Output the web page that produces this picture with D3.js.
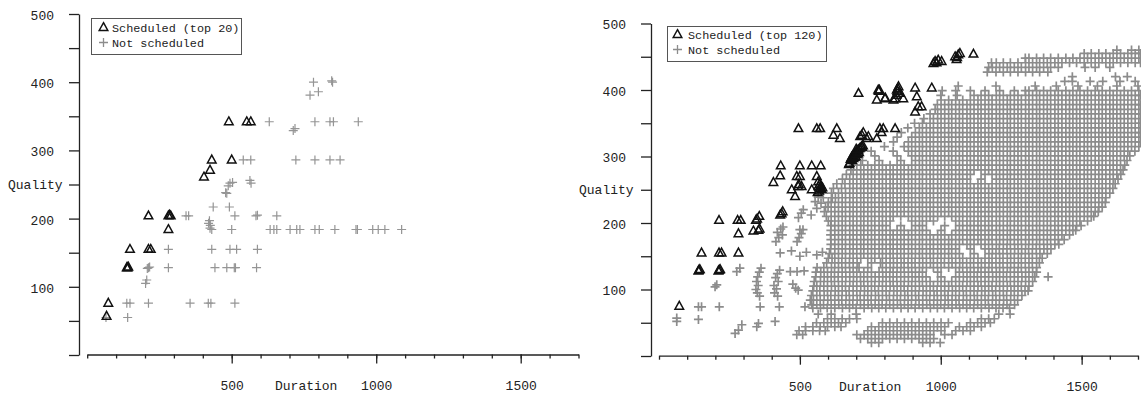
<!DOCTYPE html>
<html>
<head>
<meta charset="utf-8">
<script src="https://cdn.jsdelivr.net/npm/d3@7"></script>
<style>
  html, body { margin: 0; padding: 0; background: #fff; }
  svg { display: block; }
</style>
</head>
<body>
<svg id="chart" width="1141" height="394"></svg>
<script>
// ---- axis ticks ----
const durationTicks = [500, 1000, 1500];
const durationMinorTicks = [0, 100, 200, 300, 400, 500, 600, 700, 800, 900, 1000, 1100, 1200, 1300, 1400, 1500, 1600, 1700];
const qualityTicks = [100, 200, 300, 400, 500];
const qualityMinorTicks = [0, 50, 100, 150, 200, 250, 300, 350, 400, 450, 500];

// ---- left panel: top 20 scheduled, [duration, quality] ----
const leftScheduled = [
  [490,342],[552,342],[566,342],[431,286],[500,286],[425,271],[404,261],
  [212,204],[281,204],[289,204],[285,205],[281,184],[148,155],[212,155],[220,155],
  [137,128],[140,128],[142,129],[73,76],[67,57]
];
const leftNotScheduled = [
  [783,400],[846,402],[849,400],[771,381],[800,386],
  [630,342],[719,332],[713,329],[788,342],[840,342],[852,342],[938,342],
  [540,286],[566,286],[722,286],[788,286],[840,286],[875,286],
  [494,252],[503,253],[488,248],[479,238],[563,256],[567,252],
  [436,217],[492,217],[483,237],
  [342,204],[351,204],[511,204],[584,204],[589,205],[656,204],[423,197],[420,193],[426,190],
  [425,186],[431,184],[500,184],[633,184],[646,184],[656,184],[702,184],[725,184],[736,184],
  [788,184],[803,184],[857,184],[930,184],[935,184],[988,184],[1007,184],[1030,184],[1088,184],
  [281,155],[431,155],[494,155],[517,155],[589,155],
  [208,127],[212,128],[216,129],[281,128],[442,128],[483,128],[509,128],[513,128],[586,128],
  [206,110],[202,105],
  [137,76],[148,76],[212,76],[356,76],[419,76],[428,76],[511,76],
  [65,55],[140,55]
];

// ---- right panel: top 120 scheduled ----
const rightScheduled = [
  [72,75],[140,128],[142,129],[145,130],[211,128],[214,129],[217,130],[151,155],[213,155],[222,155],
  [282,155],[213,204],[279,204],[290,204],[282,184],[344,204],[356,210],[348,206],[335,188],[353,189],
  [357,191],[430,212],[439,217],[435,214],
  [432,286],[500,286],[542,286],[574,286],[430,271],[406,261],[489,270],[500,270],[494,255],[506,255],
  [471,250],[483,240],[560,270],[566,255],[542,250],[572,252],[568,248],[575,256],[578,250],[570,258],
  [580,253],[563,246],[496,258],[565,262],
  [495,342],[560,342],[572,342],[631,342],[619,332],[642,327],[720,332],[737,327],[784,342],[796,342],
  [773,327],[838,342],[714,330],[725,336],[743,330],[790,336],[720,315],
  [676,290],[680,296],[684,299],[688,301],[692,303],[696,305],[700,307],[704,309],[708,310],[712,312],
  [716,313],[720,314],[724,316],[690,297],[698,300],[706,304],[686,294],[694,299],[702,303],[710,306],
  [700,311],[674,288],
  [708,395],[778,400],[782,400],[773,385],[802,387],[844,400],[846,398],[850,405],[832,385],[855,395],
  [867,387],[838,387],[842,392],[909,403],[915,390],[968,403],[909,367],[920,375],[932,375],[780,398],
  [803,388],[848,402],
  [974,440],[980,443],[991,445],[1003,443],[985,441],[1051,450],[1056,446],[1058,449],[1062,453],[1068,455],
  [1116,454]
];

// scattered candidates on the short-duration side, [duration, quality]
const rightSparse = [
  [63,57],[63,52],[140,55],[140,74],[151,74],[214,74],[205,107],[199,104],[276,127],[287,132],
  [270,34],[282,39],[294,47],[347,44],[353,49],[359,74],
  [362,132],[356,126],[350,119],[346,112],[352,106],[344,100],[349,95],[357,90],
  [412,52],[428,129],[420,124],[414,118],[423,112],[408,106],[417,101],[410,95],[421,90],
  [427,74],[430,155],[470,158],[500,150],[523,156],[560,152],[580,156],
  [415,172],[425,178],[438,182],[420,186],[432,191],[440,194],
  [490,172],[497,178],[505,184],[511,190],[500,190],
  [466,127],[490,127],[515,128],[475,108],[485,102],[494,99],[518,74],
  [495,208],[505,215],[512,220],[540,212],[560,222],[575,230],[583,238],[554,232],[565,239]
];

// dense candidates, one row per quality level: [quality, duration, duration, ...]
const rightBottomRows = [
  [20, 754, 780, 936, 962, 998],
  [26, 715, 741, 767, 793, 819, 845, 871, 897, 923, 949, 975],
  [32, 489, 510, 702, 728, 754, 780, 806, 832, 858, 884, 910, 936, 962, 1014, 1040],
  [38, 497, 520, 546, 570, 590, 741, 767, 793, 819, 845, 871, 897, 923, 949, 975, 1001, 1053, 1079, 1105],
  [44, 520, 546, 572, 598, 624, 646, 754, 780, 806, 832, 858, 884, 910, 936, 962, 988, 1014, 1066, 1092, 1118, 1144],
  [50, 559, 585, 611, 637, 663, 793, 819, 845, 871, 897, 923, 949, 975, 1001, 1027, 1105, 1131, 1157, 1176],
  [56, 598, 624, 650, 676, 702, 1144, 1170, 1190],
  [63, 565, 611, 700, 1206, 1246]
];
const rightLowerRows = [
  [72, 546, 573, 597, 624, 651, 676, 700, 728, 755, 780, 805, 832, 859, 884, 909, 936, 963, 988, 1013, 1040, 1067, 1092, 1117, 1144, 1171, 1196, 1221, 1244],
  [77, 542, 560, 584, 611, 638, 663, 688, 715, 742, 767, 792, 819, 846, 871, 896, 923, 950, 975, 1000, 1027, 1054, 1079, 1104, 1131, 1158, 1183, 1208, 1235, 1262],
  [84, 537, 548, 572, 599, 624, 649, 676, 703, 728, 753, 780, 807, 832, 857, 884, 911, 936, 961, 988, 1015, 1040, 1065, 1092, 1119, 1144, 1169, 1196, 1223, 1248, 1273],
  [91, 541, 560, 586, 610, 637, 664, 689, 714, 741, 768, 793, 818, 845, 872, 897, 922, 949, 976, 1001, 1026, 1053, 1080, 1105, 1130, 1157, 1184, 1209, 1234, 1261, 1288],
  [98, 546, 571, 598, 625, 650, 675, 702, 729, 754, 779, 806, 833, 858, 883, 910, 937, 962, 987, 1014, 1041, 1066, 1091, 1118, 1145, 1170, 1195, 1222, 1249, 1274, 1299, 1310],
  [105, 549, 560, 585, 612, 637, 662, 689, 716, 741, 766, 793, 820, 845, 870, 897, 924, 949, 974, 1001, 1028, 1053, 1078, 1105, 1132, 1157, 1182, 1209, 1236, 1261, 1286, 1313],
  [112, 551, 573, 598, 623, 650, 677, 702, 727, 754, 781, 806, 831, 858, 885, 910, 935, 962, 989, 1014, 1039, 1066, 1093, 1118, 1143, 1170, 1197, 1222, 1247, 1274, 1301, 1326],
  [119, 556, 586, 611, 636, 663, 690, 715, 740, 767, 794, 819, 844, 871, 898, 923, 948, 1001, 1053, 1080, 1105, 1130, 1157, 1184, 1209, 1234, 1261, 1288, 1313, 1334, 1381],
  [126, 557, 574, 598, 623, 650, 677, 702, 727, 754, 781, 806, 831, 858, 885, 910, 935, 989, 1066, 1093, 1118, 1143, 1170, 1197, 1222, 1247, 1274, 1301, 1326, 1340]
];
const rightMiddleRows = [
  [133, 561, 585, 612, 637, 662, 689, 710, 741, 793, 820, 845, 870, 897, 924, 949, 974, 1001, 1028, 1053, 1078, 1105, 1132, 1157, 1182, 1209, 1236, 1261, 1286, 1313, 1340],
  [140, 595, 624, 649, 676, 703, 754, 786, 806, 832, 859, 884, 909, 936, 963, 988, 1013, 1040, 1067, 1092, 1117, 1144, 1171, 1196, 1221, 1248, 1275, 1300, 1325, 1350],
  [147, 601, 614, 637, 662, 689, 716, 741, 766, 793, 820, 845, 870, 897, 924, 949, 974, 1001, 1028, 1053, 1078, 1105, 1132, 1157, 1182, 1209, 1236, 1261, 1286, 1313, 1340, 1360],
  [154, 605, 624, 650, 677, 702, 727, 754, 781, 806, 831, 858, 885, 910, 935, 962, 989, 1014, 1039, 1066, 1118, 1171, 1196, 1221, 1248, 1275, 1300, 1325, 1352, 1378],
  [161, 609, 637, 662, 689, 716, 741, 766, 793, 820, 845, 870, 897, 924, 949, 974, 1001, 1028, 1053, 1105, 1157, 1183, 1208, 1235, 1262, 1287, 1312, 1339, 1366, 1391],
  [168, 610, 624, 650, 677, 702, 727, 754, 781, 806, 831, 858, 885, 910, 935, 962, 989, 1014, 1039, 1066, 1093, 1118, 1143, 1170, 1197, 1222, 1247, 1274, 1301, 1326, 1351, 1378, 1405, 1419],
  [175, 610, 637, 662, 689, 716, 741, 766, 793, 820, 845, 870, 897, 924, 949, 974, 1001, 1028, 1053, 1078, 1105, 1132, 1157, 1182, 1209, 1236, 1261, 1286, 1313, 1340, 1365, 1390, 1417, 1438],
  [182, 609, 624, 650, 677, 702, 727, 754, 781, 806, 831, 858, 885, 910, 935, 962, 989, 1014, 1039, 1066, 1093, 1118, 1143, 1170, 1197, 1222, 1247, 1274, 1301, 1326, 1351, 1378, 1405, 1430, 1457],
  [189, 610, 637, 662, 689, 716, 741, 766, 793, 820, 845, 870, 897, 924, 949, 1001, 1053, 1078, 1105, 1132, 1157, 1182, 1209, 1236, 1261, 1286, 1313, 1340, 1365, 1390, 1417, 1444, 1469, 1479],
  [196, 610, 624, 650, 677, 702, 727, 754, 781, 806, 858, 910, 935, 1014, 1066, 1093, 1118, 1143, 1170, 1197, 1222, 1247, 1274, 1301, 1326, 1351, 1378, 1405, 1430, 1457, 1482, 1498],
  [203, 601, 611, 637, 662, 689, 716, 741, 766, 793, 820, 897, 924, 949, 974, 1053, 1078, 1105, 1132, 1157, 1182, 1209, 1236, 1261, 1286, 1313, 1340, 1365, 1390, 1417, 1444, 1469, 1494, 1521],
  [210, 594, 624, 650, 677, 702, 727, 754, 781, 806, 831, 858, 885, 910, 935, 962, 989, 1014, 1039, 1066, 1093, 1118, 1143, 1170, 1197, 1222, 1247, 1274, 1301, 1326, 1351, 1378, 1405, 1430, 1457, 1482, 1509, 1534, 1543],
  [217, 587, 611, 637, 662, 689, 716, 741, 766, 793, 820, 845, 870, 897, 924, 949, 974, 1001, 1028, 1053, 1078, 1105, 1132, 1157, 1182, 1209, 1236, 1261, 1286, 1313, 1340, 1365, 1390, 1417, 1444, 1469, 1494, 1521, 1548, 1559],
  [224, 591, 600, 624, 650, 677, 702, 727, 754, 781, 806, 831, 858, 885, 910, 935, 962, 989, 1014, 1039, 1066, 1093, 1118, 1143, 1170, 1197, 1222, 1247, 1274, 1301, 1326, 1351, 1378, 1405, 1430, 1457, 1482, 1509, 1534, 1561, 1573],
  [231, 601, 611, 637, 662, 689, 716, 741, 766, 793, 820, 845, 870, 897, 924, 949, 974, 1001, 1028, 1053, 1078, 1105, 1132, 1157, 1182, 1209, 1236, 1261, 1286, 1313, 1340, 1365, 1390, 1417, 1444, 1469, 1494, 1521, 1548, 1573, 1584],
  [238, 615, 626, 650, 677, 702, 727, 754, 781, 806, 831, 858, 885, 910, 935, 962, 989, 1014, 1039, 1066, 1093, 1118, 1143, 1170, 1197, 1222, 1247, 1274, 1301, 1326, 1351, 1378, 1405, 1430, 1457, 1482, 1509, 1534, 1561, 1586],
  [245, 612, 637, 662, 689, 716, 741, 766, 793, 820, 845, 870, 897, 924, 949, 974, 1001, 1028, 1053, 1078, 1105, 1132, 1157, 1182, 1209, 1236, 1261, 1286, 1313, 1340, 1365, 1390, 1417, 1444, 1469, 1494, 1521, 1548, 1573, 1600],
  [252, 619, 648, 677, 702, 727, 754, 781, 806, 831, 858, 885, 910, 935, 962, 989, 1014, 1039, 1066, 1093, 1118, 1143, 1170, 1197, 1222, 1247, 1274, 1301, 1326, 1351, 1378, 1405, 1430, 1457, 1482, 1509, 1534, 1561, 1586, 1611],
  [259, 631, 660, 689, 716, 741, 766, 793, 820, 845, 870, 897, 924, 949, 974, 1001, 1028, 1053, 1078, 1105, 1132, 1157, 1182, 1209, 1236, 1261, 1286, 1313, 1340, 1365, 1390, 1417, 1444, 1469, 1494, 1521, 1548, 1573, 1600, 1619]
];
const rightUpperRows = [
  [266, 651, 677, 702, 727, 754, 781, 806, 831, 858, 885, 910, 935, 962, 989, 1014, 1039, 1066, 1093, 1143, 1197, 1222, 1247, 1274, 1301, 1326, 1351, 1378, 1405, 1430, 1457, 1482, 1509, 1534, 1561, 1586, 1612, 1629],
  [273, 665, 689, 716, 741, 766, 793, 820, 845, 870, 897, 924, 949, 974, 1001, 1028, 1053, 1078, 1105, 1157, 1182, 1209, 1236, 1261, 1286, 1313, 1340, 1365, 1390, 1417, 1444, 1469, 1494, 1521, 1548, 1573, 1600, 1625, 1639],
  [280, 681, 702, 727, 754, 781, 806, 831, 858, 885, 910, 935, 962, 989, 1014, 1039, 1066, 1093, 1118, 1143, 1170, 1197, 1222, 1247, 1274, 1301, 1326, 1351, 1378, 1405, 1430, 1457, 1482, 1509, 1534, 1561, 1586, 1612, 1638, 1647],
  [287, 691, 716, 741, 766, 793, 820, 845, 870, 897, 924, 949, 974, 1001, 1028, 1053, 1078, 1105, 1132, 1157, 1182, 1209, 1236, 1261, 1286, 1313, 1340, 1365, 1390, 1417, 1444, 1469, 1494, 1521, 1548, 1573, 1600, 1625, 1653],
  [294, 722, 781, 858, 910, 935, 962, 989, 1014, 1039, 1066, 1093, 1118, 1143, 1170, 1197, 1222, 1247, 1274, 1301, 1326, 1351, 1378, 1405, 1430, 1457, 1482, 1509, 1534, 1561, 1586, 1612, 1638, 1661],
  [301, 766, 845, 897, 924, 949, 974, 1001, 1028, 1053, 1078, 1105, 1132, 1157, 1182, 1209, 1236, 1261, 1286, 1313, 1340, 1365, 1390, 1417, 1444, 1469, 1494, 1521, 1548, 1573, 1600, 1625, 1651, 1671],
  [308, 753, 831, 885, 910, 935, 962, 989, 1014, 1039, 1066, 1093, 1118, 1143, 1170, 1197, 1222, 1247, 1274, 1301, 1326, 1351, 1378, 1405, 1430, 1457, 1482, 1509, 1534, 1561, 1586, 1612, 1638, 1664, 1689],
  [315, 800, 870, 897, 924, 949, 974, 1001, 1028, 1053, 1078, 1105, 1132, 1157, 1182, 1209, 1236, 1261, 1286, 1313, 1340, 1365, 1390, 1417, 1444, 1469, 1494, 1521, 1548, 1573, 1600, 1625, 1651, 1677, 1703],
  [322, 832, 885, 910, 935, 962, 989, 1014, 1039, 1066, 1093, 1118, 1143, 1170, 1197, 1222, 1247, 1274, 1301, 1326, 1351, 1378, 1405, 1430, 1457, 1482, 1509, 1534, 1561, 1586, 1612, 1638, 1664, 1690, 1709],
  [329, 845, 897, 924, 949, 974, 1001, 1028, 1053, 1078, 1105, 1132, 1157, 1182, 1209, 1236, 1261, 1286, 1313, 1340, 1365, 1390, 1417, 1444, 1469, 1494, 1521, 1548, 1573, 1600, 1625, 1651, 1677, 1703],
  [336, 860, 910, 935, 962, 989, 1014, 1039, 1066, 1093, 1118, 1143, 1170, 1197, 1222, 1247, 1274, 1301, 1326, 1351, 1378, 1405, 1430, 1457, 1482, 1509, 1534, 1561, 1586, 1612, 1638, 1664, 1690, 1709],
  [343, 883, 924, 949, 974, 1001, 1028, 1053, 1078, 1105, 1132, 1157, 1182, 1209, 1236, 1261, 1286, 1313, 1340, 1365, 1390, 1417, 1444, 1469, 1494, 1521, 1548, 1573, 1600, 1625, 1651, 1677, 1703],
  [350, 907, 935, 962, 989, 1014, 1039, 1066, 1093, 1118, 1143, 1170, 1197, 1222, 1247, 1274, 1301, 1326, 1351, 1378, 1405, 1430, 1457, 1482, 1509, 1534, 1561, 1586, 1612, 1638, 1664, 1690, 1709],
  [357, 940, 974, 1001, 1028, 1053, 1078, 1105, 1132, 1157, 1182, 1209, 1236, 1261, 1286, 1313, 1340, 1365, 1390, 1417, 1444, 1469, 1494, 1521, 1548, 1573, 1600, 1625, 1651, 1677, 1703],
  [364, 962, 989, 1014, 1039, 1066, 1093, 1118, 1143, 1170, 1197, 1222, 1247, 1274, 1301, 1326, 1351, 1378, 1405, 1430, 1457, 1482, 1509, 1534, 1561, 1586, 1612, 1638, 1664, 1690, 1709],
  [371, 980, 1001, 1028, 1053, 1078, 1105, 1132, 1157, 1182, 1209, 1236, 1261, 1286, 1313, 1340, 1365, 1390, 1417, 1444, 1469, 1494, 1521, 1548, 1573, 1600, 1625, 1651, 1677, 1703],
  [378, 988, 1014, 1039, 1066, 1093, 1118, 1143, 1170, 1197, 1222, 1247, 1274, 1301, 1326, 1351, 1378, 1405, 1430, 1457, 1482, 1509, 1534, 1561, 1586, 1612, 1638, 1664, 1690, 1709],
  [385, 1001, 1028, 1053, 1078, 1105, 1132, 1157, 1182, 1209, 1236, 1261, 1286, 1313, 1340, 1365, 1390, 1417, 1444, 1469, 1494, 1521, 1548, 1573, 1600, 1625, 1651, 1677, 1703]
];
const rightTopRows = [
  [392, 1000, 1058, 1118, 1143, 1170, 1197, 1222, 1247, 1274, 1301, 1326, 1351, 1378, 1405, 1430, 1457, 1482, 1509, 1534, 1561, 1586, 1612, 1638, 1664, 1690, 1709],
  [399, 1005, 1053, 1105, 1157, 1209, 1261, 1300, 1313, 1340, 1365, 1390, 1417, 1444, 1469, 1494, 1521, 1548, 1573, 1600, 1625, 1651, 1677, 1703],
  [406, 1062, 1196, 1335, 1410, 1487, 1556, 1625, 1700],
  [413, 1440, 1467, 1530, 1575, 1636, 1690],
  [420, 1467, 1620, 1662],
  [427, 1165, 1196, 1222, 1247, 1274, 1301, 1326, 1351, 1380],
  [434, 1170, 1183, 1209, 1236, 1261, 1286, 1313, 1340, 1365, 1390, 1417, 1512, 1548, 1600],
  [441, 1180, 1197, 1222, 1247, 1274, 1301, 1326, 1351, 1378, 1405, 1430, 1457, 1482, 1509, 1534, 1561, 1586, 1612, 1638, 1664, 1690, 1709],
  [448, 1300, 1313, 1340, 1365, 1390, 1417, 1444, 1469, 1494, 1521, 1548, 1573, 1600, 1625, 1651, 1677, 1703],
  [455, 1509, 1534, 1561, 1586, 1612, 1638, 1664, 1690, 1709],
  [460, 1625, 1677, 1703]
];

// ---- drawing ----
const FONT = "'Liberation Mono', 'Courier New', monospace";
const INK = "#222";
const CROSS = "#8c8c8c";
const trianglePath = "M0,-4.8L4.3,3L-4.3,3Z";
const crossPath = "M-4.5,0H4.5M0,-4.5V4.5";

const svg = d3.select("#chart");
svg.append("rect").attr("width", 1141).attr("height", 394).attr("fill", "#fff");

const fromRows = rows => rows.flatMap(r => r.slice(1).map(d => [d, r[0]]));

function drawPanel(p) {
  const x = d3.scaleLinear().domain([0, 1700]).range(p.xRange);
  const y = d3.scaleLinear().domain([0, 500]).range(p.yRange);
  const g = svg.append("g");

  // y axis
  const gy = g.append("g")
    .attr("transform", `translate(${p.yAxisX},0)`)
    .call(d3.axisLeft(y).tickValues(qualityMinorTicks).tickSize(10).tickSizeOuter(0)
      .tickPadding(15).tickFormat(v => qualityTicks.includes(v) ? String(v) : ""));

  // x axis: short minor ticks, long labelled major ticks
  const gxMinor = g.append("g")
    .attr("transform", `translate(0,${p.xAxisY})`)
    .call(d3.axisBottom(x).tickValues(durationMinorTicks).tickSize(4).tickSizeOuter(0).tickFormat(""));
  const gxMajor = g.append("g")
    .attr("transform", `translate(0,${p.xAxisY})`)
    .call(d3.axisBottom(x).tickValues(durationTicks).tickSize(9).tickSizeOuter(0).tickPadding(17)
      .tickFormat(v => String(v)));
  gxMajor.select(".domain").remove();

  [gy, gxMinor, gxMajor].forEach(a => {
    a.attr("font-family", FONT).attr("font-size", 13);
    a.selectAll(".domain, .tick line").attr("stroke", INK).attr("stroke-width", 1.3);
    a.selectAll(".tick text").attr("fill", INK);
  });
  gy.selectAll(".tick text").attr("dy", "0.42em");

  // axis titles
  g.append("text").attr("x", p.qualityLabelX).attr("y", y(250) + 4.5)
    .attr("font-family", FONT).attr("font-size", 13).attr("fill", INK).text("Quality");
  g.append("text").attr("x", p.durationLabelX).attr("y", p.xAxisY + 35)
    .attr("font-family", FONT).attr("font-size", 13).attr("fill", INK).text("Duration");

  // not scheduled candidates
  g.append("g").selectAll("path").data(p.notScheduled).join("path")
    .attr("d", crossPath)
    .attr("transform", d => `translate(${x(d[0])},${y(d[1])})`)
    .attr("fill", "none").attr("stroke", p.crossColor).attr("stroke-width", p.crossWidth);

  // scheduled candidates
  g.append("g").selectAll("path").data(p.scheduled).join("path")
    .attr("d", trianglePath)
    .attr("transform", d => `translate(${x(d[0])},${y(d[1])})`)
    .attr("fill", "none").attr("stroke", "#111").attr("stroke-width", 1.5);

  // legend
  const L = p.legend;
  const lg = g.append("g");
  lg.append("rect").attr("x", L.x + 0.5).attr("y", L.y + 0.5).attr("width", L.w).attr("height", L.h)
    .attr("fill", "#fff").attr("stroke", "#555").attr("stroke-width", 1);
  lg.append("path").attr("d", trianglePath)
    .attr("transform", `translate(${L.symX},${L.row1})`)
    .attr("fill", "none").attr("stroke", "#111").attr("stroke-width", 1.5);
  lg.append("path").attr("d", crossPath)
    .attr("transform", `translate(${L.symX},${L.row2})`)
    .attr("fill", "none").attr("stroke", CROSS).attr("stroke-width", 1.3);
  lg.append("text").attr("x", L.textX).attr("y", L.row1 + 4)
    .attr("font-family", FONT).attr("font-size", 11.8).attr("fill", INK).text(L.label);
  lg.append("text").attr("x", L.textX).attr("y", L.row2 + 4)
    .attr("font-family", FONT).attr("font-size", 11.8).attr("fill", INK).text("Not scheduled");
}

drawPanel({
  xRange: [87.2, 578.5], yRange: [355, 14],
  yAxisX: 79, xAxisY: 354.5,
  qualityLabelX: 8, durationLabelX: 275,
  scheduled: leftScheduled, notScheduled: leftNotScheduled,
  crossColor: "#959595", crossWidth: 1.2,
  legend: { x: 91, y: 18, w: 150, h: 36, symX: 103.5, textX: 112, row1: 27.5, row2: 42.5,
            label: "Scheduled (top 20)" }
});

drawPanel({
  xRange: [659, 1138], yRange: [356, 23.5],
  yAxisX: 651, xAxisY: 355.7,
  qualityLabelX: 579, durationLabelX: 839,
  scheduled: rightScheduled,
  notScheduled: rightSparse.concat(fromRows(rightBottomRows), fromRows(rightLowerRows),
    fromRows(rightMiddleRows), fromRows(rightUpperRows), fromRows(rightTopRows)),
  crossColor: CROSS, crossWidth: 1.7,
  legend: { x: 667, y: 26, w: 159, h: 35, symX: 677.5, textX: 688, row1: 34.5, row2: 49.5,
            label: "Scheduled (top 120)" }
});
</script>
</body>
</html>
